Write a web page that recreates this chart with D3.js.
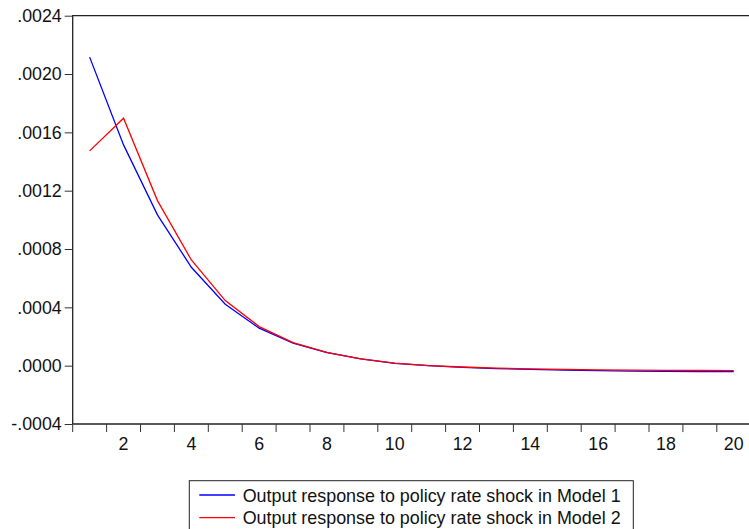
<!DOCTYPE html>
<html>
<head>
<meta charset="utf-8">
<script src="https://cdn.jsdelivr.net/npm/d3@7"></script>
<style>
  body { margin: 0; background: #fff; }
  text { font-family: "Liberation Sans", Arial, sans-serif; fill: #111; }
</style>
</head>
<body>
<script>
// impulse responses, periods 1..20
const periods = d3.range(1, 21);
const model1 = [0.002116, 0.001514, 0.001034, 0.000675, 0.000421, 0.000257, 0.000154, 0.000089,
                0.000046, 0.000016, 0.000000, -0.000011, -0.000020, -0.000026, -0.000031, -0.000034,
                -0.000037, -0.000039, -0.000040, -0.000041];
const model2 = [0.001473, 0.001697, 0.001132, 0.000725, 0.000446, 0.000268, 0.000158, 0.000091,
                0.000047, 0.000017, 0.000001, -0.000009, -0.000017, -0.000022, -0.000026, -0.000029,
                -0.000031, -0.000032, -0.000033, -0.000034];
const yTicks = [-0.0004, 0, 0.0004, 0.0008, 0.0012, 0.0016, 0.0020, 0.0024];
const xLabels = [2, 4, 6, 8, 10, 12, 14, 16, 18, 20];
const seriesNames = ["Output response to policy rate shock in Model 1",
                     "Output response to policy rate shock in Model 2"];

const w = 749, h = 529;
const plotLeft = 72.7, plotTop = 15.7, plotBottom = 424;

const svg = d3.select("body").append("svg")
    .attr("width", w)
    .attr("height", h);

const x = d3.scaleLinear().domain([0.5, 20.5]).range([plotLeft, plotLeft + 20 * 33.9]);
const y = d3.scaleLinear().domain([-0.0004, 0.0024]).range([plotBottom, plotTop]);

// frame: top and left edges
svg.append("path")
    .attr("d", `M${plotLeft},${plotBottom}V${plotTop}H${w}`)
    .attr("fill", "none")
    .attr("stroke", "#222")
    .attr("stroke-width", 1.3);

// y axis
const yAxis = d3.axisLeft(y)
    .tickValues(yTicks)
    .tickSize(8)
    .tickPadding(3)
    .tickFormat(d => {
      const s = d3.format(".4f")(d).replace("\u2212", "-");
      return s.replace(/^(-?)0\./, "$1.");
    });
const gy = svg.append("g")
    .attr("transform", `translate(${plotLeft},0)`)
    .call(yAxis);
gy.select(".domain").remove();
gy.selectAll("line").attr("stroke", "#333");
gy.selectAll("text").attr("font-size", 17.8).attr("font-family", null);

// x axis: ticks at half periods, labels at even periods
const gx = svg.append("g")
    .attr("transform", `translate(0,${plotBottom})`);
gx.append("line")
    .attr("x1", plotLeft).attr("x2", w)
    .attr("stroke", "#222").attr("stroke-width", 1.3);
gx.selectAll(".tk")
    .data(d3.range(0.5, 21, 1))
    .join("line")
    .attr("x1", d => x(d)).attr("x2", d => x(d))
    .attr("y1", 0).attr("y2", 8)
    .attr("stroke", "#333");
gx.selectAll(".lb")
    .data(xLabels)
    .join("text")
    .attr("x", d => x(d))
    .attr("y", 26)
    .attr("text-anchor", "middle")
    .attr("font-size", 17.8)
    .text(d => d);

// lines
const line = d3.line()
    .x((d, i) => x(periods[i]))
    .y(d => y(d));

const colors = ["#0000ff", "#ff0000"];
[model1, model2].forEach((s, k) => {
  svg.append("path")
      .datum(s)
      .attr("d", line)
      .attr("fill", "none")
      .attr("stroke", colors[k])
      .attr("stroke-width", 1.3);
});

// legend
const lg = svg.append("g");
lg.append("rect")
    .attr("x", 189.3).attr("y", 480.7)
    .attr("width", 444).attr("height", 60)
    .attr("fill", "#fff")
    .attr("stroke", "#222");
seriesNames.forEach((name, k) => {
  const yy = 495 + k * 22.7;
  lg.append("line")
      .attr("x1", 199.3).attr("x2", 235)
      .attr("y1", yy).attr("y2", yy)
      .attr("stroke", colors[k])
      .attr("stroke-width", 1.3);
  lg.append("text")
      .attr("x", 242.7).attr("y", yy + 6.5)
      .attr("font-size", 17.9)
      .text(name);
});
</script>
</body>
</html>
